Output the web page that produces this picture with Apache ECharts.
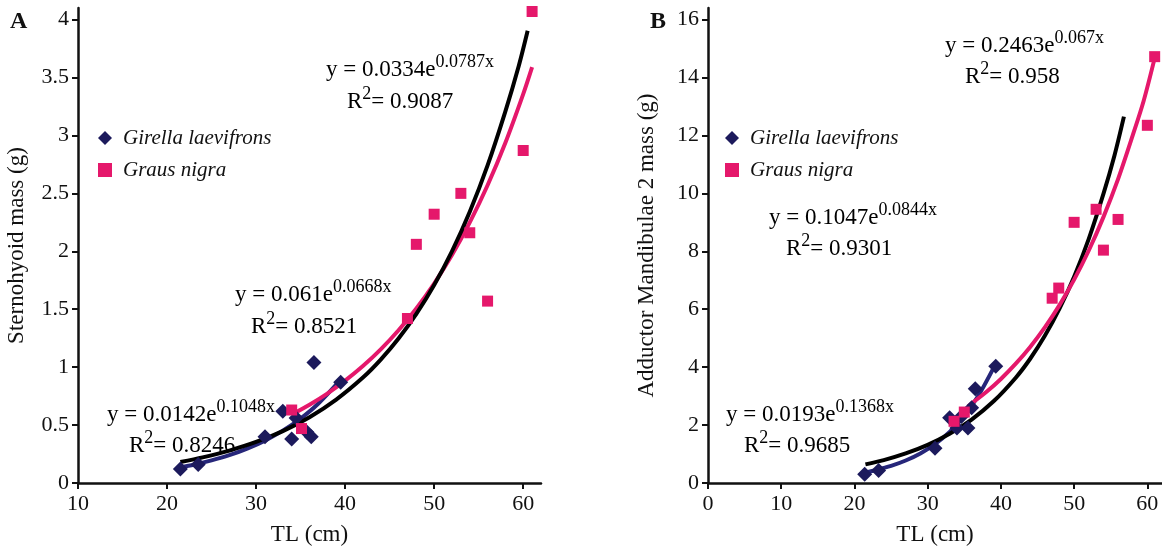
<!DOCTYPE html>
<html>
<head>
<meta charset="utf-8">
<script src="https://cdn.jsdelivr.net/npm/echarts@6/dist/echarts.min.js"></script>
<style>
  html, body { margin: 0; padding: 0; background: #fff; }
  #chart { width: 1162px; height: 551px; }
</style>
</head>
<body>
<div id="chart"></div>
<script>
// ---- data ----
// Panel A: sternohyoid mass (g) vs TL (cm)
const girellaA = [[21.5, 0.12], [23.5, 0.16], [31, 0.40], [33, 0.62], [34, 0.38], [34.5, 0.56], [35.7, 0.44], [36.2, 0.40], [36.5, 1.04], [39.5, 0.87]];
const grausA = [[34, 0.63], [35.1, 0.47], [47, 1.42], [48, 2.06], [50, 2.32], [53, 2.50], [54, 2.16], [56, 1.57], [60, 2.87], [61, 4.07]];
// trend curves
const girellaFitA = [[21.5, 0.135], [23, 0.158], [25, 0.195], [27, 0.24], [29, 0.297], [31, 0.366], [33, 0.452], [35, 0.556], [37, 0.686], [39.5, 0.892]];
const grausFitA = [[34, 0.591], [36, 0.676], [38, 0.772], [40, 0.883], [42, 1.009], [44, 1.153], [46, 1.318], [48, 1.506], [50, 1.721], [52, 1.967], [54, 2.249], [56, 2.57], [58, 2.937], [60, 3.357], [61, 3.59]];
const allFitA = [[21.5, 0.181], [24, 0.221], [27, 0.28], [30, 0.354], [33, 0.448], [36, 0.568], [39, 0.72], [42, 0.91], [44, 1.065], [46, 1.247], [48, 1.46], [50, 1.709], [52, 2.0], [54, 2.341], [56, 2.741], [58, 3.208], [59.5, 3.6], [60.5, 3.904]];

// Panel B: adductor mandibulae 2 mass (g) vs TL (cm)
const girellaB = [[21.4, 0.30], [23.3, 0.43], [31, 1.20], [33, 2.25], [34, 1.90], [34.6, 2.30], [35.5, 1.90], [36, 2.60], [36.5, 3.25], [39.3, 4.03]];
const grausB = [[33.6, 2.13], [35, 2.45], [47, 6.38], [47.9, 6.73], [50, 9.00], [53, 9.45], [54, 8.04], [56, 9.10], [60, 12.35], [61, 14.72]];
const girellaFitB = [[21.5, 0.366], [23, 0.45], [25, 0.59], [27, 0.776], [29, 1.02], [31, 1.341], [33, 1.765], [35, 2.32], [37, 3.047], [39.3, 4.12]];
const grausFitB = [[35.5, 2.65], [38, 3.14], [40, 3.592], [42, 4.11], [44, 4.697], [46, 5.37], [48, 6.141], [50, 7.02], [52, 8.027], [54, 9.18], [56, 10.49], [58, 12.0], [59.5, 13.2], [61, 14.67]];
const allFitB = [[21.5, 0.643], [24, 0.79], [27, 1.02], [30, 1.317], [33, 1.70], [36, 2.19], [39, 2.82], [42, 3.627], [44, 4.29], [46, 5.081], [48, 6.02], [50, 7.123], [52, 8.43], [54, 9.98], [55.5, 11.3], [56.8, 12.65]];

// tick labels
const tlTicksA = [10, 20, 30, 40, 50, 60];
const massTicksA = [0, 0.5, 1, 1.5, 2, 2.5, 3, 3.5, 4];
const tlTicksB = [0, 10, 20, 30, 40, 50, 60];
const massTicksB = [0, 2, 4, 6, 8, 10, 12, 14, 16];

const FONT = "Liberation Serif";
const NAVY = "#1c1a5c";
const NAVY_LINE = "#26267a";
const NAVY_TEXT = "#33338a";
const PINK = "#e5186b";
const INK = "#111";

const chart = echarts.init(document.getElementById("chart"));

const xAxis = (grid, min, max, ticks) => ({
  type: "value",
  gridIndex: grid,
  min: min,
  max: max,
  name: "TL (cm)",
  nameLocation: "middle",
  nameGap: 40,
  nameTextStyle: { fontFamily: FONT, fontSize: 23, color: INK },
  splitLine: { show: false },
  axisLine: { onZero: false, lineStyle: { color: INK, width: 2.5 } },
  axisTick: { customValues: ticks, length: 6, lineStyle: { color: INK, width: 2 } },
  axisLabel: { customValues: ticks, margin: 10, fontFamily: FONT, fontSize: 22, color: INK },
});

const yAxis = (grid, max, ticks, title) => ({
  type: "value",
  gridIndex: grid,
  min: 0,
  max: max,
  name: title,
  nameLocation: "middle",
  nameGap: 50,
  nameTextStyle: { fontFamily: FONT, fontSize: 23, color: INK },
  splitLine: { show: false },
  axisLine: { onZero: false, lineStyle: { color: INK, width: 2.5 } },
  axisTick: { customValues: ticks, length: 6, lineStyle: { color: INK, width: 2 } },
  axisLabel: { customValues: ticks, margin: 9, fontFamily: FONT, fontSize: 22, color: INK },
});

const fitLine = (name, grid, data, color, width, z) => ({
  name: name,
  type: "line",
  xAxisIndex: grid,
  yAxisIndex: grid,
  data: data,
  smooth: 0.3,
  showSymbol: false,
  silent: true,
  z: z,
  lineStyle: { color: color, width: width },
});

const points = (name, grid, data, symbol, size, color) => ({
  name: name,
  type: "scatter",
  xAxisIndex: grid,
  yAxisIndex: grid,
  data: data,
  symbol: symbol,
  symbolSize: size,
  z: 5,
  itemStyle: { color: color, opacity: 1 },
});

// equation / R² labels with superscripts
const rich = (color) => ({
  m: { fontFamily: FONT, fontSize: 23, color: color },
  s: { fontFamily: FONT, fontSize: 18, color: color, padding: [0, 0, 15, 0] },
});
const eq = (x, y, a, b, color) => ({
  type: "text", x: x, y: y,
  style: { text: "{m|y = " + a + "e}{s|" + b + "x}", rich: rich(color), verticalAlign: "middle" },
});
const r2 = (x, y, v, color) => ({
  type: "text", x: x, y: y,
  style: { text: "{m|R}{s|2}{m|= " + v + "}", rich: rich(color), verticalAlign: "middle" },
});

const legend = (left) => ({
  left: left,
  top: 122,
  orient: "vertical",
  itemWidth: 14,
  itemHeight: 14,
  itemGap: 10,
  data: [
    { name: "Girella laevifrons", icon: "diamond", itemStyle: { opacity: 1 } },
    { name: "Graus nigra", icon: "rect", itemStyle: { opacity: 1 } },
  ],
  textStyle: { fontFamily: FONT, fontSize: 21, fontStyle: "italic", color: INK, lineHeight: 22, padding: [0, 0, 0, 6] },
});

chart.setOption({
  animation: false,
  grid: [
    { left: 78, right: 621, top: 8, bottom: 61 },
    { left: 708, right: 0, top: 8, bottom: 61 },
  ],
  xAxis: [xAxis(0, 10, 62, tlTicksA), xAxis(1, 0, 62, tlTicksB)],
  yAxis: [
    yAxis(0, 4.1, massTicksA, "Sternohyoid mass (g)"),
    yAxis(1, 16.4, massTicksB, "Adductor Mandibulae 2 mass (g)"),
  ],
  legend: [legend(93), legend(720)],
  series: [
    fitLine("fitGirellaA", 0, girellaFitA, NAVY_LINE, 4, 2),
    fitLine("fitGrausA", 0, grausFitA, PINK, 4, 2),
    fitLine("fitAllA", 0, allFitA, "#000", 4, 3),
    points("Girella laevifrons", 0, girellaA, "diamond", 15, NAVY),
    points("Graus nigra", 0, grausA, "rect", 11, PINK),
    fitLine("fitGirellaB", 1, girellaFitB, NAVY_LINE, 4, 2),
    fitLine("fitAllB", 1, allFitB, "#000", 4, 2),
    fitLine("fitGrausB", 1, grausFitB, PINK, 4, 3),
    points("Girella laevifrons", 1, girellaB, "diamond", 15, NAVY),
    points("Graus nigra", 1, grausB, "rect", 11, PINK),
  ],
  graphic: [
    { type: "text", x: 10, y: 10, style: { text: "A", fontFamily: FONT, fontSize: 24, fontWeight: "bold", fill: INK } },
    { type: "text", x: 650, y: 10, style: { text: "B", fontFamily: FONT, fontSize: 24, fontWeight: "bold", fill: INK } },
    eq(326, 70, "0.0334", "0.0787", INK),
    r2(347, 102, "0.9087", INK),
    eq(235, 295, "0.061", "0.0668", PINK),
    r2(251, 327, "0.8521", PINK),
    eq(107, 415, "0.0142", "0.1048", NAVY_TEXT),
    r2(129, 446, "0.8246", NAVY_TEXT),
    eq(945, 46, "0.2463", "0.067", PINK),
    r2(965, 77, "0.958", PINK),
    eq(769, 218, "0.1047", "0.0844", INK),
    r2(786, 249, "0.9301", INK),
    eq(726, 415, "0.0193", "0.1368", NAVY_TEXT),
    r2(744, 446, "0.9685", NAVY_TEXT),
  ],
});
</script>
</body>
</html>
